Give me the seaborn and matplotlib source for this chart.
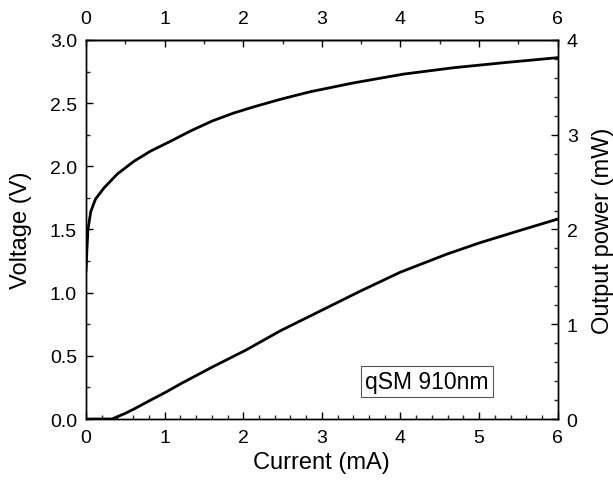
import matplotlib
matplotlib.use("Agg")
import matplotlib.pyplot as plt
from matplotlib.ticker import MultipleLocator, FixedLocator
import seaborn as sns
import pandas as pd

# Data
current_v = [0.0, 0.01, 0.025, 0.06, 0.12, 0.23, 0.40, 0.61, 0.82, 1.08, 1.33, 1.61,
             1.87, 2.13, 2.47, 2.85, 3.40, 4.04, 4.67, 5.31, 6.0]
voltage = [1.17, 1.32, 1.50, 1.64, 1.74, 1.83, 1.94, 2.04, 2.12, 2.20, 2.28, 2.36,
           2.42, 2.47, 2.53, 2.59, 2.66, 2.73, 2.78, 2.82, 2.86]
current_p = [0.0, 0.33, 0.5, 0.61, 0.8, 1.03, 1.2, 1.61, 2.04, 2.47, 2.98, 3.49,
             4.0, 4.59, 5.01, 5.52, 6.0]
power = [0.0, 0.0, 0.06, 0.105, 0.19, 0.29, 0.37, 0.55, 0.73, 0.93, 1.14, 1.35,
         1.55, 1.74, 1.86, 1.99, 2.11]

top_ticks = [0, 1, 2, 3, 4, 5, 6]
x_label = "Current (mA)"
y_label = "Voltage (V)"
y2_label = "Output power (mW)"
annotation = "qSM 910nm"

sns.set_theme(style="white")
plt.rcParams['font.family'] = ['Liberation Sans', 'DejaVu Sans']
plt.rcParams['axes.linewidth'] = 1.0

df_v = pd.DataFrame({"I": current_v, "V": voltage})
df_p = pd.DataFrame({"I": current_p, "P": power})

fig = plt.figure(figsize=(6.13, 4.81), dpi=100)
ax = fig.add_axes([0.1403, 0.1268, 0.9098 - 0.1403, 0.9148 - 0.1268])
ax2 = ax.twinx()

sns.lineplot(data=df_v, x="I", y="V", ax=ax, color="black", linewidth=2.0,
             sort=False, estimator=None, solid_joinstyle="round")
sns.lineplot(data=df_p, x="I", y="P", ax=ax2, color="black", linewidth=2.0,
             sort=False, estimator=None, solid_joinstyle="round")

ax.set_xlim(0, 6)
ax.set_ylim(0, 3)
ax2.set_ylim(0, 4)

for a in (ax, ax2):
    for s in a.spines.values():
        s.set_color("black")
        s.set_linewidth(1.0)

ax.xaxis.set_major_locator(MultipleLocator(1))
ax.xaxis.set_minor_locator(MultipleLocator(0.2))
ax.yaxis.set_major_locator(MultipleLocator(0.5))
ax.yaxis.set_minor_locator(MultipleLocator(0.25))
ax2.yaxis.set_major_locator(MultipleLocator(1))
ax2.yaxis.set_minor_locator(MultipleLocator(0.2))

TS = 14
ax.tick_params(axis="x", which="major", direction="in", length=5.3, width=1.0,
               labelsize=TS, pad=7, bottom=True, top=False, colors="black")
ax.tick_params(axis="x", which="minor", direction="in", length=3, width=1.0,
               bottom=True, top=False)
ax.tick_params(axis="y", which="major", direction="in", length=5.3, width=1.0,
               labelsize=TS, pad=6.5, left=True, right=False, colors="black")
ax.tick_params(axis="y", which="minor", direction="in", length=3, width=1.0,
               left=True, right=False)
ax2.tick_params(axis="y", which="major", direction="in", length=5.3, width=1.0,
                labelsize=TS, pad=6.5, right=True, left=False, colors="black")
ax2.tick_params(axis="y", which="minor", direction="in", length=3, width=1.0,
                right=True, left=False)

top = ax.secondary_xaxis("top")
top.xaxis.set_major_locator(FixedLocator(top_ticks))
top.xaxis.set_minor_locator(FixedLocator([t + 0.5 for t in top_ticks[:-1]]))
top.tick_params(axis="x", which="major", direction="in", length=5.3, width=1.0,
                labelsize=TS, pad=9, colors="black")
top.tick_params(axis="x", which="minor", direction="in", length=3, width=1.0)
top.spines["top"].set_linewidth(1.0)
top.spines["top"].set_color("black")

ax.set_xlabel(x_label, fontsize=17, color="black", labelpad=4)
ax.set_ylabel(y_label, fontsize=17, color="black", labelpad=13)
ax2.set_ylabel(y2_label, fontsize=17, color="black", labelpad=10)

ax.text(0.723, 0.099, annotation, transform=ax.transAxes, fontsize=16.5,
        ha="center", va="center", color="black",
        bbox=dict(boxstyle="square,pad=0.18", facecolor="white",
                  edgecolor="#555555", linewidth=0.8))

fig.savefig("out.png", dpi=100)
